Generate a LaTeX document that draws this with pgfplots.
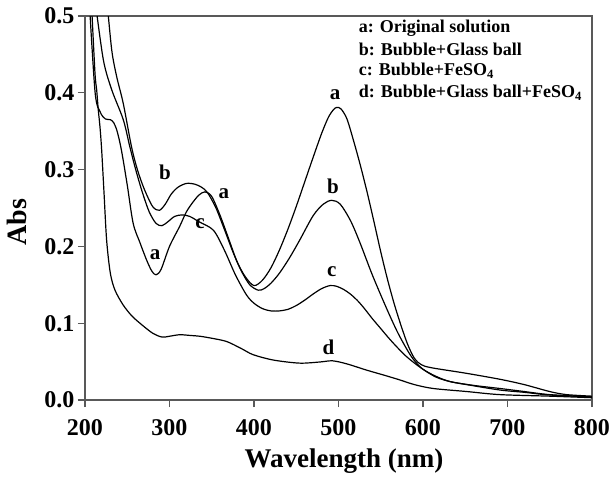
\documentclass[border=0pt]{standalone}
\usepackage{fontspec}
\setmainfont{Liberation Serif}
\usepackage{pgfplots}
\pgfplotsset{compat=1.18}

\begin{document}
\begin{tikzpicture}
\path[use as bounding box] (-85pt,-77pt) rectangle (526pt,400pt);
\begin{axis}[
  at={(0,0)}, anchor=south west,
  scale only axis,
  width=507pt, height=384pt,
  xmin=200, xmax=800, ymin=0, ymax=0.5,
  xtick={200,300,...,800},
  ytick={0,0.1,...,0.5},
  tick pos=left,
  tick align=outside,
  major tick length=7pt,
  axis line style={black!65, line width=1.1pt},
  every tick/.style={black!65, line width=1.1pt},
  /pgf/number format/assume math mode=true,
  yticklabel style={/pgf/number format/.cd, fixed, fixed zerofill, precision=1},
  xticklabel style={/pgf/number format/1000 sep={}, yshift=-9pt},
  ticklabel style={font=\fontsize{24}{24}\selectfont\bfseries},
  xlabel={Wavelength (nm)},
  ylabel={Abs},
  every axis x label/.style={at={(axis description cs:0.511,-0.177)}, anchor=base,
    font=\fontsize{27}{27}\selectfont\bfseries},
  every axis y label/.style={at={(axis description cs:-0.135,0.463)}, anchor=center, rotate=90,
    font=\fontsize{28}{28}\selectfont\bfseries},
  curve/.style={black, line width=1.2pt, smooth, mark=none},
  clip=true,
]
% a: original solution
\addplot[curve] coordinates {
 (205,0.52) (212,0.40) (218,0.375) (224,0.366) (230,0.365) (234,0.361)
 (238,0.35) (243,0.326) (250,0.28) (257,0.23) (265,0.205) (273,0.182)
 (279,0.168) (284,0.163) (290,0.17) (300,0.2) (312,0.226) (320,0.245)
 (328,0.258) (335,0.267) (342,0.271) (350,0.265) (360,0.24) (370,0.21)
 (380,0.18) (390,0.16) (400,0.149) (410,0.156) (420,0.172) (430,0.195)
 (440,0.222) (450,0.252) (460,0.284) (470,0.316) (480,0.347) (488,0.368)
 (494,0.378) (498,0.381) (503,0.379) (510,0.366) (518,0.337) (526,0.305)
 (534,0.27) (542,0.232) (550,0.193) (558,0.157) (566,0.125) (574,0.097)
 (582,0.072) (590,0.054) (598,0.046) (610,0.042) (650,0.035) (691,0.027)
 (720,0.02) (750,0.011) (770,0.007) (800,0.005)
};
% b: bubble + glass ball
\addplot[curve] coordinates {
 (226,0.52) (231.6,0.456) (237.5,0.421) (245.3,0.386) (255,0.33) (262,0.3)
 (270,0.275) (280,0.252) (288,0.247) (295,0.255) (302,0.268) (310,0.277)
 (320,0.282) (330,0.281) (338,0.277) (345,0.27) (355,0.25) (365,0.222)
 (375,0.193) (385,0.168) (395,0.15) (405,0.143) (412,0.145) (420,0.152)
 (430,0.165) (442,0.185) (454,0.208) (470,0.24) (482,0.255) (492,0.26)
 (502,0.255) (514,0.234) (525,0.206) (540,0.163) (557,0.119) (570,0.088)
 (582,0.064) (590,0.051) (600,0.04) (615,0.031) (632,0.024) (660,0.019)
 (691,0.015) (720,0.011) (750,0.007) (800,0.004)
};
% c: bubble + FeSO4
\addplot[curve] coordinates {
 (212,0.52) (221.7,0.443) (231.6,0.404) (245.3,0.365) (253,0.33) (260,0.3)
 (268,0.27) (276,0.245) (284,0.23) (291,0.227) (298,0.232) (306,0.239)
 (315,0.241) (324,0.239) (335,0.232) (352,0.221) (365,0.195) (378,0.163)
 (391,0.137) (400,0.126) (410,0.119) (420,0.116) (430,0.116) (440,0.118)
 (450,0.123) (460,0.13) (470,0.138) (480,0.145) (490,0.149) (498,0.148)
 (506,0.144) (514,0.138) (522,0.13) (530,0.12) (540,0.106) (550,0.093)
 (560,0.08) (570,0.068) (580,0.057) (590,0.048) (600,0.04) (615,0.03)
 (632,0.024) (652,0.02) (691,0.013) (720,0.01) (750,0.0065) (800,0.004)
};
% d: bubble + glass ball + FeSO4
\addplot[curve] coordinates {
 (207.5,0.52) (211.8,0.426) (213.8,0.404) (215.7,0.378) (217.7,0.356)
 (219.7,0.326) (222.5,0.27) (225.6,0.208) (230,0.165) (235.5,0.143)
 (245,0.124) (255,0.11) (265,0.1) (280,0.087) (291,0.082) (300,0.083)
 (312,0.085) (325,0.084) (336,0.083) (352,0.08) (368,0.076) (385,0.067)
 (399,0.059) (423,0.052) (454,0.048) (478,0.0495) (493,0.051) (510,0.047)
 (533,0.039) (555,0.032) (573,0.026) (590,0.02) (612,0.015) (652,0.011)
 (691,0.007) (750,0.005) (800,0.003)
};
% curve letters
\begin{scope}[every node/.style={font=\fontsize{21}{21}\selectfont\bfseries, inner sep=0pt}]
\node at (axis cs:294.7,0.297) {b};
\node at (axis cs:364.5,0.269) {a};
\node at (axis cs:336,0.230) {c};
\node at (axis cs:283,0.189) {a};
\node at (axis cs:496,0.397) {a};
\node at (axis cs:493.6,0.278) {b};
\node at (axis cs:492,0.167) {c};
\node at (axis cs:488,0.069) {d};
\end{scope}
% legend text
\begin{scope}[every node/.style={font=\fontsize{18}{18}\selectfont\bfseries, anchor=west, inner sep=0pt}]
\node at (axis cs:524,0.484) {a: Original solution};
\node at (axis cs:524,0.457) {b: Bubble+Glass ball};
\node at (axis cs:524,0.429) {c: Bubble+FeSO\textsubscript{4}};
\node at (axis cs:524,0.400) {d: Bubble+Glass ball+FeSO\textsubscript{4}};
\end{scope}
\end{axis}
\end{tikzpicture}
\end{document}
